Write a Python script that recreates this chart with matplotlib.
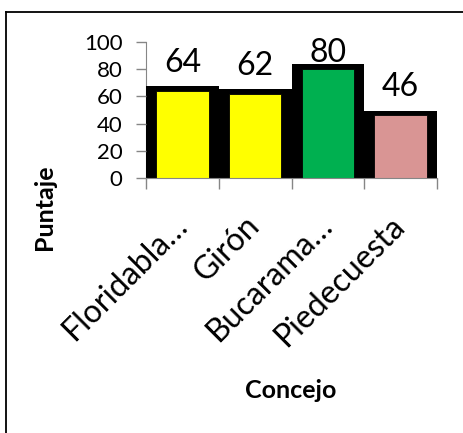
import matplotlib
matplotlib.use("Agg")
import matplotlib.pyplot as plt
from matplotlib.lines import Line2D

categorias = ["Floridabla…", "Girón", "Bucarama…", "Piedecuesta"]
puntajes = [64, 62, 80, 46]
colores = ["#FFFF00", "#FFFF00", "#00B050", "#D99594"]
y_ticks = [0, 20, 40, 60, 80, 100]

plt.rcParams['font.family'] = ['Lato', 'DejaVu Sans']

W, H = 463, 433
fig = plt.figure(figsize=(W / 100, H / 100), dpi=100)

# outer frame (only left/top visible)
fig.add_artist(Line2D([6 / W, 6 / W], [0, 1 - 12 / H], color="black", lw=1.3, transform=fig.transFigure))
fig.add_artist(Line2D([6 / W, 1], [1 - 12 / H, 1 - 12 / H], color="black", lw=1.3, transform=fig.transFigure))

left, right, top, bottom = 146, 437, 42, 178
ax = fig.add_axes([left / W, 1 - bottom / H, (right - left) / W, (bottom - top) / H])

x = list(range(len(categorias)))
pad = 3.6
ax.bar(x, [v + pad for v in puntajes], width=1.0, color="black", zorder=1)
ax.bar(x, puntajes, width=0.72, color=colores, edgecolor="black", linewidth=0.6, zorder=2)

# labels kept inside the chart area (clamped like the original)
for xi, v in zip(x, puntajes):
    ax.text(xi, min(v + pad + 10.5, 85.5), str(v), ha="center", va="baseline", fontsize=23,
            zorder=3, clip_on=False)

ax.set_xlim(-0.5, len(categorias) - 0.5)
ax.set_ylim(0, 100)
ax.set_yticks(y_ticks)
ax.set_yticklabels([str(t) for t in y_ticks], fontsize=16)
ax.set_xticks([i - 0.5 for i in range(len(categorias) + 1)])
ax.set_xticklabels([])
ax.tick_params(axis="y", length=7, width=1, color="#868686", pad=10)
ax.tick_params(axis="x", length=8, width=1, color="#868686")

for xi, lab in zip(x, categorias):
    ax.text(xi - 0.15, -24, lab, rotation=45, ha="right", va="top", rotation_mode="anchor",
            fontsize=23, transform=ax.transData, clip_on=False)

for s in ["top", "right"]:
    ax.spines[s].set_visible(False)
ax.spines["left"].set_color("#868686")
ax.spines["bottom"].set_color("#868686")
ax.spines["left"].set_zorder(0)

fig.text(45 / W, 1 - 207 / H, "Puntaje", rotation=90, ha="center", va="center",
         fontsize=18, fontweight="bold")
fig.text(291 / W, 1 - 390 / H, "Concejo", ha="center", va="center",
         fontsize=18, fontweight="bold")

fig.savefig("out.png", dpi=100)
